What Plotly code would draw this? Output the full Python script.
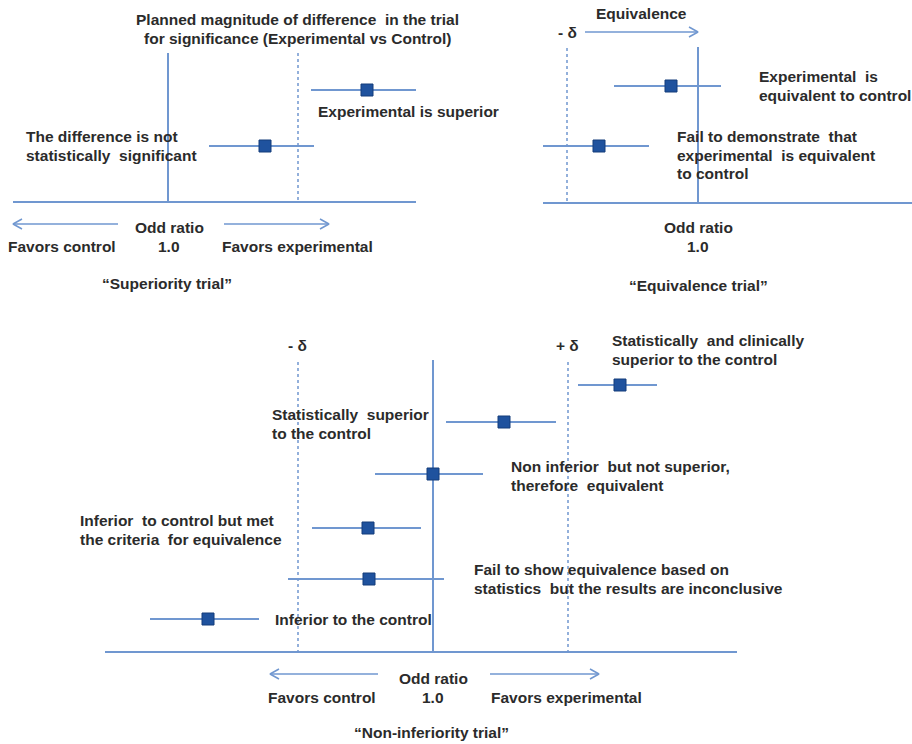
import plotly.graph_objects as go

W, H = 912, 744
LINE = "#7097d0"
MARK = "#1f529e"
MARK_EDGE = "#143c7a"
TXT = "#2b2b2b"
FONT = "Liberation Sans, Arial, sans-serif"
FS = 15.5
LS = 18.5  # line spacing for multi-line labels

# ---------------- Superiority trial ----------------
sup_rows = [90, 146]
sup_est = [367, 265]
sup_lo = [311, 209]
sup_hi = [416, 314]
sup_null_x = 168
sup_margin_x = 298
sup_vert_span = [53, 202]
sup_axis = [13, 416]
sup_axis_y = 202

# ---------------- Equivalence trial ----------------
eq_rows = [86, 146]
eq_est = [671, 599]
eq_lo = [614, 543]
eq_hi = [721, 649]
eq_null_x = 698
eq_margin_x = 567
eq_vert_span = [47, 203]
eq_axis = [543, 912]
eq_axis_y = 203

# ---------------- Non-inferiority trial ----------------
ni_rows = [385, 422, 474, 528, 579, 619]
ni_est = [620, 504, 433, 368, 369, 208]
ni_lo = [578, 446, 375, 312, 288, 150]
ni_hi = [657, 556, 483, 421, 444, 259]
ni_null_x = 433
ni_margins_x = [298, 568]
ni_vert_span = [360, 652]
ni_axis = [105, 737]
ni_axis_y = 652

# arrows: (x_start, x_end, y)
arrows = [
    (118, 13, 224), (224, 329, 224),
    (585, 698, 32),
    (378, 270, 674), (490, 599, 674),
]

# texts: (lines, x, y, xanchor)
texts = [
    (["Planned magnitude of difference  in the trial", "for significance (Experimental vs Control)"], 297, 29, "center"),
    (["Experimental is superior"], 316, 111, "left"),
    (["The difference is not", "statistically  significant"], 24, 146, "left"),
    (["Odd ratio"], 169, 227, "center"),
    (["1.0"], 169, 246, "center"),
    (["Favors control"], 62, 246, "center"),
    (["Favors experimental"], 297, 246, "center"),
    (["\u201cSuperiority trial\u201d"], 167, 283, "center"),

    (["Equivalence"], 641, 13, "center"),
    (["- \u03b4"], 567, 32, "center"),
    (["Experimental  is", "equivalent to control"], 757, 86, "left"),
    (["Fail to demonstrate  that", "experimental  is equivalent", "to control"], 675, 155, "left"),
    (["Odd ratio"], 698, 227, "center"),
    (["1.0"], 698, 246, "center"),
    (["\u201cEquivalence trial\u201d"], 698, 285, "center"),

    (["- \u03b4"], 297, 345, "center"),
    (["+ \u03b4"], 567, 345, "center"),
    (["Statistically  and clinically", "superior to the control"], 610, 350, "left"),
    (["Statistically  superior", "to the control"], 270, 424, "left"),
    (["Non inferior  but not superior,", "therefore  equivalent"], 509, 476, "left"),
    (["Inferior  to control but met", "the criteria  for equivalence"], 78, 530, "left"),
    (["Fail to show equivalence based on", "statistics  but the results are inconclusive"], 472, 579, "left"),
    (["Inferior to the control"], 273, 619, "left"),
    (["Odd ratio"], 433, 678, "center"),
    (["1.0"], 433, 697, "center"),
    (["Favors control"], 322, 697, "center"),
    (["Favors experimental"], 566, 697, "center"),
    (["\u201cNon-inferiority trial\u201d"], 431, 732, "center"),
]

fig = go.Figure()


def seg(xs, ys, dash="solid", width=2.0):
    fig.add_trace(go.Scatter(x=xs, y=ys, mode="lines",
                             line=dict(color=LINE, width=width, dash=dash),
                             hoverinfo="skip", showlegend=False))


def ci(rows, est, lo, hi):
    xs, ys = [], []
    for r, a, b in zip(rows, lo, hi):
        xs += [a, b, None]
        ys += [r, r, None]
    seg(xs, ys, width=2.0)
    fig.add_trace(go.Scatter(x=est, y=rows, mode="markers",
                             marker=dict(symbol="square", size=12, color=MARK,
                                         line=dict(color=MARK_EDGE, width=1)),
                             hoverinfo="skip", showlegend=False))


# superiority
seg([sup_axis[0], sup_axis[1]], [sup_axis_y, sup_axis_y])
seg([sup_null_x, sup_null_x], sup_vert_span)
seg([sup_margin_x, sup_margin_x], sup_vert_span, dash="dot", width=1.5)
ci(sup_rows, sup_est, sup_lo, sup_hi)

# equivalence
seg([eq_axis[0], eq_axis[1]], [eq_axis_y, eq_axis_y])
seg([eq_null_x, eq_null_x], eq_vert_span)
seg([eq_margin_x, eq_margin_x], [eq_vert_span[0] + 1, eq_vert_span[1]], dash="dot", width=1.5)
ci(eq_rows, eq_est, eq_lo, eq_hi)

# non-inferiority
seg([ni_axis[0], ni_axis[1]], [ni_axis_y, ni_axis_y])
seg([ni_null_x, ni_null_x], ni_vert_span)
for mx in ni_margins_x:
    seg([mx, mx], [ni_vert_span[0] + 2, ni_vert_span[1]], dash="dot", width=1.5)
ci(ni_rows, ni_est, ni_lo, ni_hi)

# arrows with open chevron heads
for x0, x1, y in arrows:
    d = 1 if x1 > x0 else -1
    seg([x0, x1], [y, y], width=1.5)
    seg([x1 - d * 9, x1, x1 - d * 9], [y - 5, y, y + 5], width=1.5)

for lines, x, y, anc in texts:
    n = len(lines)
    for i, t in enumerate(lines):
        fig.add_annotation(x=x, y=y + (i - (n - 1) / 2) * LS, text=t, showarrow=False,
                           xanchor=anc, yanchor="middle",
                           font=dict(family=FONT, size=FS, color=TXT, weight="bold"))

fig.update_xaxes(range=[0, W], visible=False, fixedrange=True)
fig.update_yaxes(range=[H, 0], visible=False, fixedrange=True)
fig.update_layout(width=W, height=H, margin=dict(l=0, r=0, t=0, b=0),
                  paper_bgcolor="white", plot_bgcolor="white", showlegend=False)

fig.write_html("out.html", config={"displayModeBar": False},
               post_script="document.body.style.margin='0';document.body.style.overflow='hidden';")
